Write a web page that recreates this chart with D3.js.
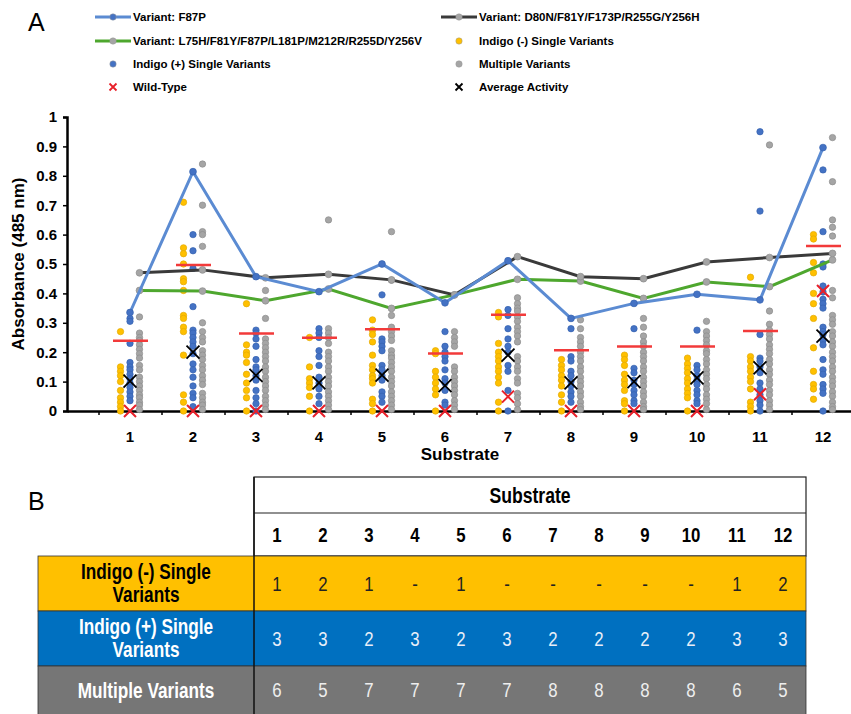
<!DOCTYPE html>
<html>
<head>
<meta charset="utf-8">
<script src="https://cdn.jsdelivr.net/npm/d3@7"></script>
<style>
  body { margin: 0; background: #fff; }
  svg { display: block; font-family: "Liberation Sans", Arial, sans-serif; }
</style>
</head>
<body>
<svg id="chart" width="851" height="714"></svg>
<script>
'use strict';

// substrates on the x axis
const substrates = ["1", "2", "3", "4", "5", "6", "7", "8", "9", "10", "11", "12"];
const yTicks = [0, 0.1, 0.2, 0.3, 0.4, 0.5, 0.6, 0.7, 0.8, 0.9, 1];

// Indigo (-) single variants, one list per substrate
const indigoNeg = [
  [0.27, 0.15, 0.135, 0.12, 0.1, 0.07, 0.045, 0.03, 0.015, 0],
  [0.71, 0.555, 0.535, 0.5, 0.45, 0.44, 0.41, 0.325, 0.315, 0.285, 0.27, 0.19, 0.055, 0.03, 0],
  [0.365, 0.225, 0.2, 0.19, 0.165, 0.125, 0.095, 0.07, 0.045, 0],
  [0.25, 0.15, 0.11, 0.095, 0.08, 0.05, 0],
  [0.31, 0.275, 0.26, 0.235, 0.19, 0.155, 0.14, 0.12, 0.11, 0.095, 0.04, 0.025, 0],
  [0.205, 0.195, 0.135, 0.115, 0.095, 0.075, 0.055, 0],
  [0.335, 0.32, 0.23, 0.2, 0.185, 0.17, 0.15, 0.135, 0.115, 0.095, 0.03, 0],
  [0.175, 0.155, 0.14, 0.12, 0.105, 0.085, 0.055, 0.03, 0],
  [0.19, 0.175, 0.155, 0.125, 0.105, 0.09, 0.07, 0.035, 0.025, 0],
  [0.18, 0.16, 0.145, 0.13, 0.11, 0.095, 0.075, 0.06, 0.045, 0],
  [0.455, 0.185, 0.17, 0.15, 0.135, 0.115, 0.1, 0.075, 0.03, 0.015, 0],
  [0.6, 0.585, 0.505, 0.47, 0.4, 0.365, 0.315, 0.215, 0.135, 0.09, 0.075, 0.04]
];

// Indigo (+) single variants
const indigoPos = [
  [0.315, 0.305, 0.23, 0.165, 0.15, 0.14, 0.125, 0.11, 0.095, 0.08, 0.065, 0.05, 0.035],
  [0.6, 0.545, 0.485, 0.355, 0.275, 0.265, 0.25, 0.235, 0.22, 0.195, 0.16, 0.14, 0.115, 0.085, 0.06, 0.045, 0.015],
  [0.275, 0.265, 0.245, 0.22, 0.175, 0.15, 0.14, 0.12, 0.105, 0.07, 0.045, 0.025, 0],
  [0.28, 0.265, 0.25, 0.205, 0.185, 0.155, 0.115, 0.095, 0.075, 0.05, 0.025],
  [0.395, 0.245, 0.235, 0.22, 0.205, 0.155, 0.14, 0.12, 0.105, 0.065, 0.05, 0.03],
  [0.27, 0.22, 0.2, 0.185, 0.17, 0.14, 0.11, 0.095, 0.07, 0.03, 0.02],
  [0.345, 0.325, 0.28, 0.245, 0.22, 0.2, 0.155, 0.135, 0.07, 0],
  [0.28, 0.185, 0.17, 0.135, 0.12, 0.1, 0.085, 0.065, 0.05, 0.03],
  [0.28, 0.145, 0.13, 0.105, 0.09, 0.07, 0.055, 0.035, 0.025],
  [0.275, 0.155, 0.14, 0.12, 0.105, 0.09, 0.07, 0.055, 0.035, 0.025],
  [0.95, 0.68, 0.26, 0.18, 0.17, 0.15, 0.13, 0.095, 0.075, 0.055, 0.035, 0.02, 0],
  [0.82, 0.61, 0.5, 0.49, 0.425, 0.405, 0.38, 0.365, 0.35, 0.285, 0.27, 0.26, 0.24, 0.225, 0.175, 0.14, 0.125, 0.09, 0.075, 0.06, 0]
];

// multiple variants
const multiple = [
  [0.32, 0.265, 0.25, 0.24, 0.225, 0.21, 0.195, 0.18, 0.155, 0.14, 0.115, 0.1, 0.085, 0.07, 0.055, 0.045, 0.03, 0.02, 0.005],
  [0.84, 0.7, 0.61, 0.6, 0.56, 0.3, 0.27, 0.25, 0.235, 0.205, 0.19, 0.175, 0.155, 0.14, 0.12, 0.105, 0.09, 0.06, 0.045, 0.03, 0.02, 0.005],
  [0.41, 0.315, 0.245, 0.23, 0.215, 0.2, 0.185, 0.17, 0.15, 0.135, 0.115, 0.1, 0.085, 0.07, 0.05, 0.035, 0.02, 0.005],
  [0.65, 0.28, 0.265, 0.25, 0.23, 0.2, 0.185, 0.17, 0.15, 0.135, 0.115, 0.1, 0.085, 0.065, 0.05, 0.035, 0.02, 0.005],
  [0.61, 0.445, 0.325, 0.285, 0.27, 0.255, 0.24, 0.205, 0.19, 0.18, 0.165, 0.15, 0.135, 0.115, 0.1, 0.085, 0.065, 0.05, 0.035, 0.02, 0.005],
  [0.27, 0.25, 0.235, 0.22, 0.15, 0.135, 0.115, 0.1, 0.085, 0.07, 0.055, 0.035, 0.02, 0.005],
  [0.385, 0.365, 0.35, 0.34, 0.32, 0.305, 0.285, 0.27, 0.255, 0.235, 0.185, 0.17, 0.15, 0.135, 0.11, 0.095, 0.06, 0.045, 0.025, 0.005],
  [0.31, 0.28, 0.25, 0.235, 0.22, 0.2, 0.185, 0.17, 0.15, 0.135, 0.115, 0.1, 0.085, 0.065, 0.05, 0.03, 0.015, 0.005],
  [0.315, 0.285, 0.255, 0.235, 0.22, 0.2, 0.185, 0.17, 0.15, 0.135, 0.115, 0.1, 0.085, 0.065, 0.05, 0.03, 0.015, 0.005],
  [0.305, 0.27, 0.255, 0.24, 0.225, 0.205, 0.195, 0.175, 0.16, 0.14, 0.125, 0.11, 0.09, 0.075, 0.055, 0.04, 0.025, 0.005],
  [0.905, 0.34, 0.295, 0.275, 0.26, 0.245, 0.225, 0.21, 0.195, 0.175, 0.16, 0.14, 0.125, 0.105, 0.09, 0.07, 0.055, 0.035, 0.02, 0.005],
  [0.93, 0.78, 0.65, 0.625, 0.595, 0.41, 0.385, 0.325, 0.31, 0.295, 0.27, 0.255, 0.235, 0.22, 0.2, 0.185, 0.17, 0.15, 0.135, 0.115, 0.1, 0.085, 0.065, 0.05, 0.03, 0.015, 0.005]
];

// named variants (lines)
const f87p = [0.335, 0.814, 0.457, 0.406, 0.5, 0.368, 0.511, 0.315, 0.366, 0.397, 0.378, 0.896];
const d80n = [0.47, 0.48, 0.453, 0.465, 0.446, 0.395, 0.525, 0.457, 0.45, 0.507, 0.522, 0.536];
const l75h = [0.41, 0.408, 0.375, 0.415, 0.349, 0.395, 0.448, 0.442, 0.383, 0.439, 0.423, 0.514];

const wildType = [0, 0, 0, 0, 0, 0, 0.049, 0, 0, 0, 0.057, 0.408];
const average = [0.102, 0.2, 0.121, 0.096, 0.122, 0.086, 0.19, 0.096, 0.1, 0.113, 0.147, 0.255];
const redBar = [0.239, 0.497, 0.264, 0.249, 0.278, 0.196, 0.327, 0.207, 0.219, 0.219, 0.272, 0.561];

// table B
const tableRowLabels = [["Indigo (-) Single", "Variants"], ["Indigo (+) Single", "Variants"], ["Multiple Variants"]];
const countNeg = ["1", "2", "1", "-", "1", "-", "-", "-", "-", "-", "1", "2"];
const countPos = ["3", "3", "2", "3", "2", "3", "2", "2", "2", "2", "3", "3"];
const countMulti = ["6", "5", "7", "7", "7", "7", "8", "8", "8", "8", "6", "5"];

const svg = d3.select("#chart");

var x = d3.scaleLinear().domain([0, 12.5]).range([67, 854.5]);
var y = d3.scaleLinear().domain([0, 1]).range([411, 117]);

const colYellow = "#ffc000", colBlue = "#4472c4", colGray = "#a5a5a5";
const lineBlue = "#5b8bd2", lineGreen = "#4ea72e", lineBlack = "#3a3a3a";

// panel letters
svg.append("text").attr("x", 28).attr("y", 31).style("font-size", "25px").text("A");
svg.append("text").attr("x", 28).attr("y", 510).style("font-size", "25px").text("B");

// axes
var yAxis = svg.append("g")
    .attr("transform", "translate(67,0)")
    .call(d3.axisLeft(y).tickValues(yTicks).tickSize(4).tickPadding(6).tickFormat(d3.format("~g")));
yAxis.select(".domain").attr("stroke-width", 2.5);
yAxis.selectAll(".tick line").attr("stroke-width", 1.5);
yAxis.selectAll("text").style("font-size", "15px").style("font-weight", "bold").attr("fill", "#000");

var xAxis = svg.append("g")
    .attr("transform", "translate(0,411)")
    .call(d3.axisBottom(x).tickValues(d3.range(0.5, 12, 1)).tickSize(4).tickSizeOuter(0).tickFormat(""));
xAxis.select(".domain").attr("stroke-width", 2.5);
xAxis.selectAll(".tick line").attr("stroke-width", 1.5);

svg.append("g").selectAll("text")
    .data(substrates)
    .enter().append("text")
    .attr("x", (d, i) => x(i + 1))
    .attr("y", 442)
    .attr("text-anchor", "middle")
    .style("font-size", "15px").style("font-weight", "bold")
    .text(d => d);

svg.append("text")
    .attr("x", 460).attr("y", 460)
    .attr("text-anchor", "middle")
    .style("font-size", "17px").style("font-weight", "bold")
    .text("Substrate");

svg.append("text")
    .attr("transform", "translate(24,264) rotate(-90)")
    .attr("text-anchor", "middle")
    .style("font-size", "17px").style("font-weight", "bold")
    .text("Absorbance (485 nm)");

// scatter columns
const groups = [
    { vals: indigoNeg, dx: -9.5, fill: colYellow, stroke: "#e3a900" },
    { vals: indigoPos, dx: 0, fill: colBlue, stroke: "#3763b0" },
    { vals: multiple, dx: 9.5, fill: colGray, stroke: "#8c8c8c" }
];
var dots = svg.append("g");
groups.forEach(function (g) {
    var flat = [];
    g.vals.forEach((arr, i) => arr.forEach(v => flat.push({ i: i, v: v })));
    dots.append("g").selectAll("circle")
        .data(flat)
        .enter().append("circle")
        .attr("cx", d => x(d.i + 1) + g.dx)
        .attr("cy", d => y(d.v))
        .attr("r", 3.2)
        .style("fill", g.fill)
        .style("stroke", g.stroke)
        .style("stroke-width", 0.7);
});

// variant lines
const lineSeries = [
    { vals: l75h, dx: 9.5, color: lineGreen, mFill: colGray, mStroke: "#8c8c8c" },
    { vals: d80n, dx: 9.5, color: lineBlack, mFill: colGray, mStroke: "#8c8c8c" },
    { vals: f87p, dx: 0, color: lineBlue, mFill: colBlue, mStroke: "#3763b0" }
];
lineSeries.forEach(function (s) {
    var line = d3.line().x((d, i) => x(i + 1) + s.dx).y(d => y(d));
    svg.append("path")
        .datum(s.vals)
        .attr("d", line)
        .style("fill", "none")
        .style("stroke", s.color)
        .style("stroke-width", 3);
    svg.append("g").selectAll("circle")
        .data(s.vals)
        .enter().append("circle")
        .attr("cx", (d, i) => x(i + 1) + s.dx)
        .attr("cy", d => y(d))
        .attr("r", 3.4)
        .style("fill", s.mFill)
        .style("stroke", s.mStroke)
        .style("stroke-width", 0.7);
});

// red bars
svg.append("g").selectAll("line")
    .data(redBar)
    .enter().append("line")
    .attr("x1", (d, i) => x(i + 1) - 17)
    .attr("x2", (d, i) => x(i + 1) + 18)
    .attr("y1", d => y(d))
    .attr("y2", d => y(d))
    .style("stroke", "#f23a3a")
    .style("stroke-width", 2.5);

function crossPath(cx, cy, s) {
    return "M" + (cx - s) + "," + (cy - s) + "L" + (cx + s) + "," + (cy + s) +
        "M" + (cx - s) + "," + (cy + s) + "L" + (cx + s) + "," + (cy - s);
}

svg.append("g").selectAll("path")
    .data(wildType)
    .enter().append("path")
    .attr("d", (d, i) => crossPath(x(i + 1), y(d), 6))
    .style("stroke", "#e8202a")
    .style("stroke-width", 2);

svg.append("g").selectAll("path")
    .data(average)
    .enter().append("path")
    .attr("d", (d, i) => crossPath(x(i + 1), y(d), 6.5))
    .style("stroke", "#000")
    .style("stroke-width", 1.8);

// legend
const legendItems = [
    { label: "Variant: F87P", type: "line", color: lineBlue, m: colBlue, col: 0, row: 0 },
    { label: "Variant: D80N/F81Y/F173P/R255G/Y256H", type: "line", color: lineBlack, m: colGray, col: 1, row: 0 },
    { label: "Variant: L75H/F81Y/F87P/L181P/M212R/R255D/Y256V", type: "line", color: lineGreen, m: colGray, col: 0, row: 1 },
    { label: "Indigo (-) Single Variants", type: "dot", m: colYellow, col: 1, row: 1 },
    { label: "Indigo (+) Single Variants", type: "dot", m: colBlue, col: 0, row: 2 },
    { label: "Multiple Variants", type: "dot", m: colGray, col: 1, row: 2 },
    { label: "Wild-Type", type: "x", color: "#e8202a", col: 0, row: 3 },
    { label: "Average Activity", type: "x", color: "#000", col: 1, row: 3 }
];
var legend = svg.append("g");
var li = legend.selectAll("g")
    .data(legendItems)
    .enter().append("g")
    .attr("transform", d => "translate(" + (d.col ? 459 : 113) + "," + [17, 41, 64, 87][d.row] + ")");
li.filter(d => d.type === "line").append("line")
    .attr("x1", -18).attr("x2", 18)
    .style("stroke", d => d.color).style("stroke-width", 3);
li.filter(d => d.type !== "x").append("circle")
    .attr("r", 3.2)
    .style("fill", d => d.m)
    .style("stroke", "#999").style("stroke-width", 0.5);
li.filter(d => d.type === "x").append("path")
    .attr("d", crossPath(0, 0, 3.5))
    .style("stroke", d => d.color).style("stroke-width", 1.8);
li.append("text")
    .attr("x", 20).attr("dy", "0.35em")
    .style("font-size", "11.5px").style("font-weight", "bold")
    .text(d => d.label);

// table B (condensed look via horizontal squeeze)
const tLeft = 38, tSplit = 254, tRight = 806;
const squeeze = 0.8;
var col = d3.scaleBand().domain(substrates).range([tSplit, tRight]);
const rowTops = [477, 513, 556, 611, 666, 716];
var tbl = svg.append("g");

function narrowText(parent, cx, cy) {
    return parent.append("text")
        .attr("transform", "translate(" + cx + "," + cy + ") scale(" + squeeze + ",1)")
        .attr("text-anchor", "middle");
}

tbl.append("rect").attr("x", tSplit).attr("y", rowTops[0]).attr("width", tRight - tSplit).attr("height", rowTops[2] - rowTops[0])
    .style("fill", "#fff").style("stroke", "#222").style("stroke-width", 1.2);
tbl.append("line").attr("x1", tSplit).attr("x2", tRight).attr("y1", rowTops[1]).attr("y2", rowTops[1])
    .style("stroke", "#222").style("stroke-width", 1.2);
narrowText(tbl, (tSplit + tRight) / 2, (rowTops[0] + rowTops[1]) / 2)
    .attr("dy", "0.35em")
    .style("font-size", "22px").style("font-weight", "bold").text("Substrate");
substrates.forEach(function (d) {
    narrowText(tbl, col(d) + col.bandwidth() / 2, (rowTops[1] + rowTops[2]) / 2)
        .attr("dy", "0.35em")
        .style("font-size", "21px").style("font-weight", "bold")
        .text(d);
});

const bodyRows = [
    { label: tableRowLabels[0], vals: countNeg, fill: "#ffc000", text: "#000", valText: "#222" },
    { label: tableRowLabels[1], vals: countPos, fill: "#0070c0", text: "#fff", valText: "#e8eef8" },
    { label: tableRowLabels[2], vals: countMulti, fill: "#767676", text: "#fff", valText: "#eee" }
];
bodyRows.forEach(function (r, k) {
    var top = rowTops[k + 2], bot = rowTops[k + 3], mid = (top + Math.min(bot, 714)) / 2;
    tbl.append("rect").attr("x", tLeft).attr("y", top).attr("width", tRight - tLeft).attr("height", bot - top)
        .style("fill", r.fill).style("stroke", "#333").style("stroke-width", 0.8);
    var lbl = narrowText(tbl, (tLeft + tSplit) / 2, mid)
        .style("font-size", "21.5px").style("font-weight", "bold")
        .style("fill", r.text);
    r.label.forEach(function (t, j) {
        lbl.append("tspan").attr("x", 0)
            .attr("dy", j === 0 ? (r.label.length > 1 ? "-0.22em" : "0.35em") : "1.1em")
            .text(t);
    });
    r.vals.forEach(function (d, i) {
        narrowText(tbl, col(substrates[i]) + col.bandwidth() / 2, mid)
            .attr("dy", "0.35em")
            .style("font-size", "21px")
            .style("fill", r.valText)
            .text(d);
    });
});
tbl.append("line").attr("x1", tSplit).attr("x2", tSplit).attr("y1", rowTops[0]).attr("y2", 714)
    .style("stroke", "#111").style("stroke-width", 1.5);
</script>
</body>
</html>
